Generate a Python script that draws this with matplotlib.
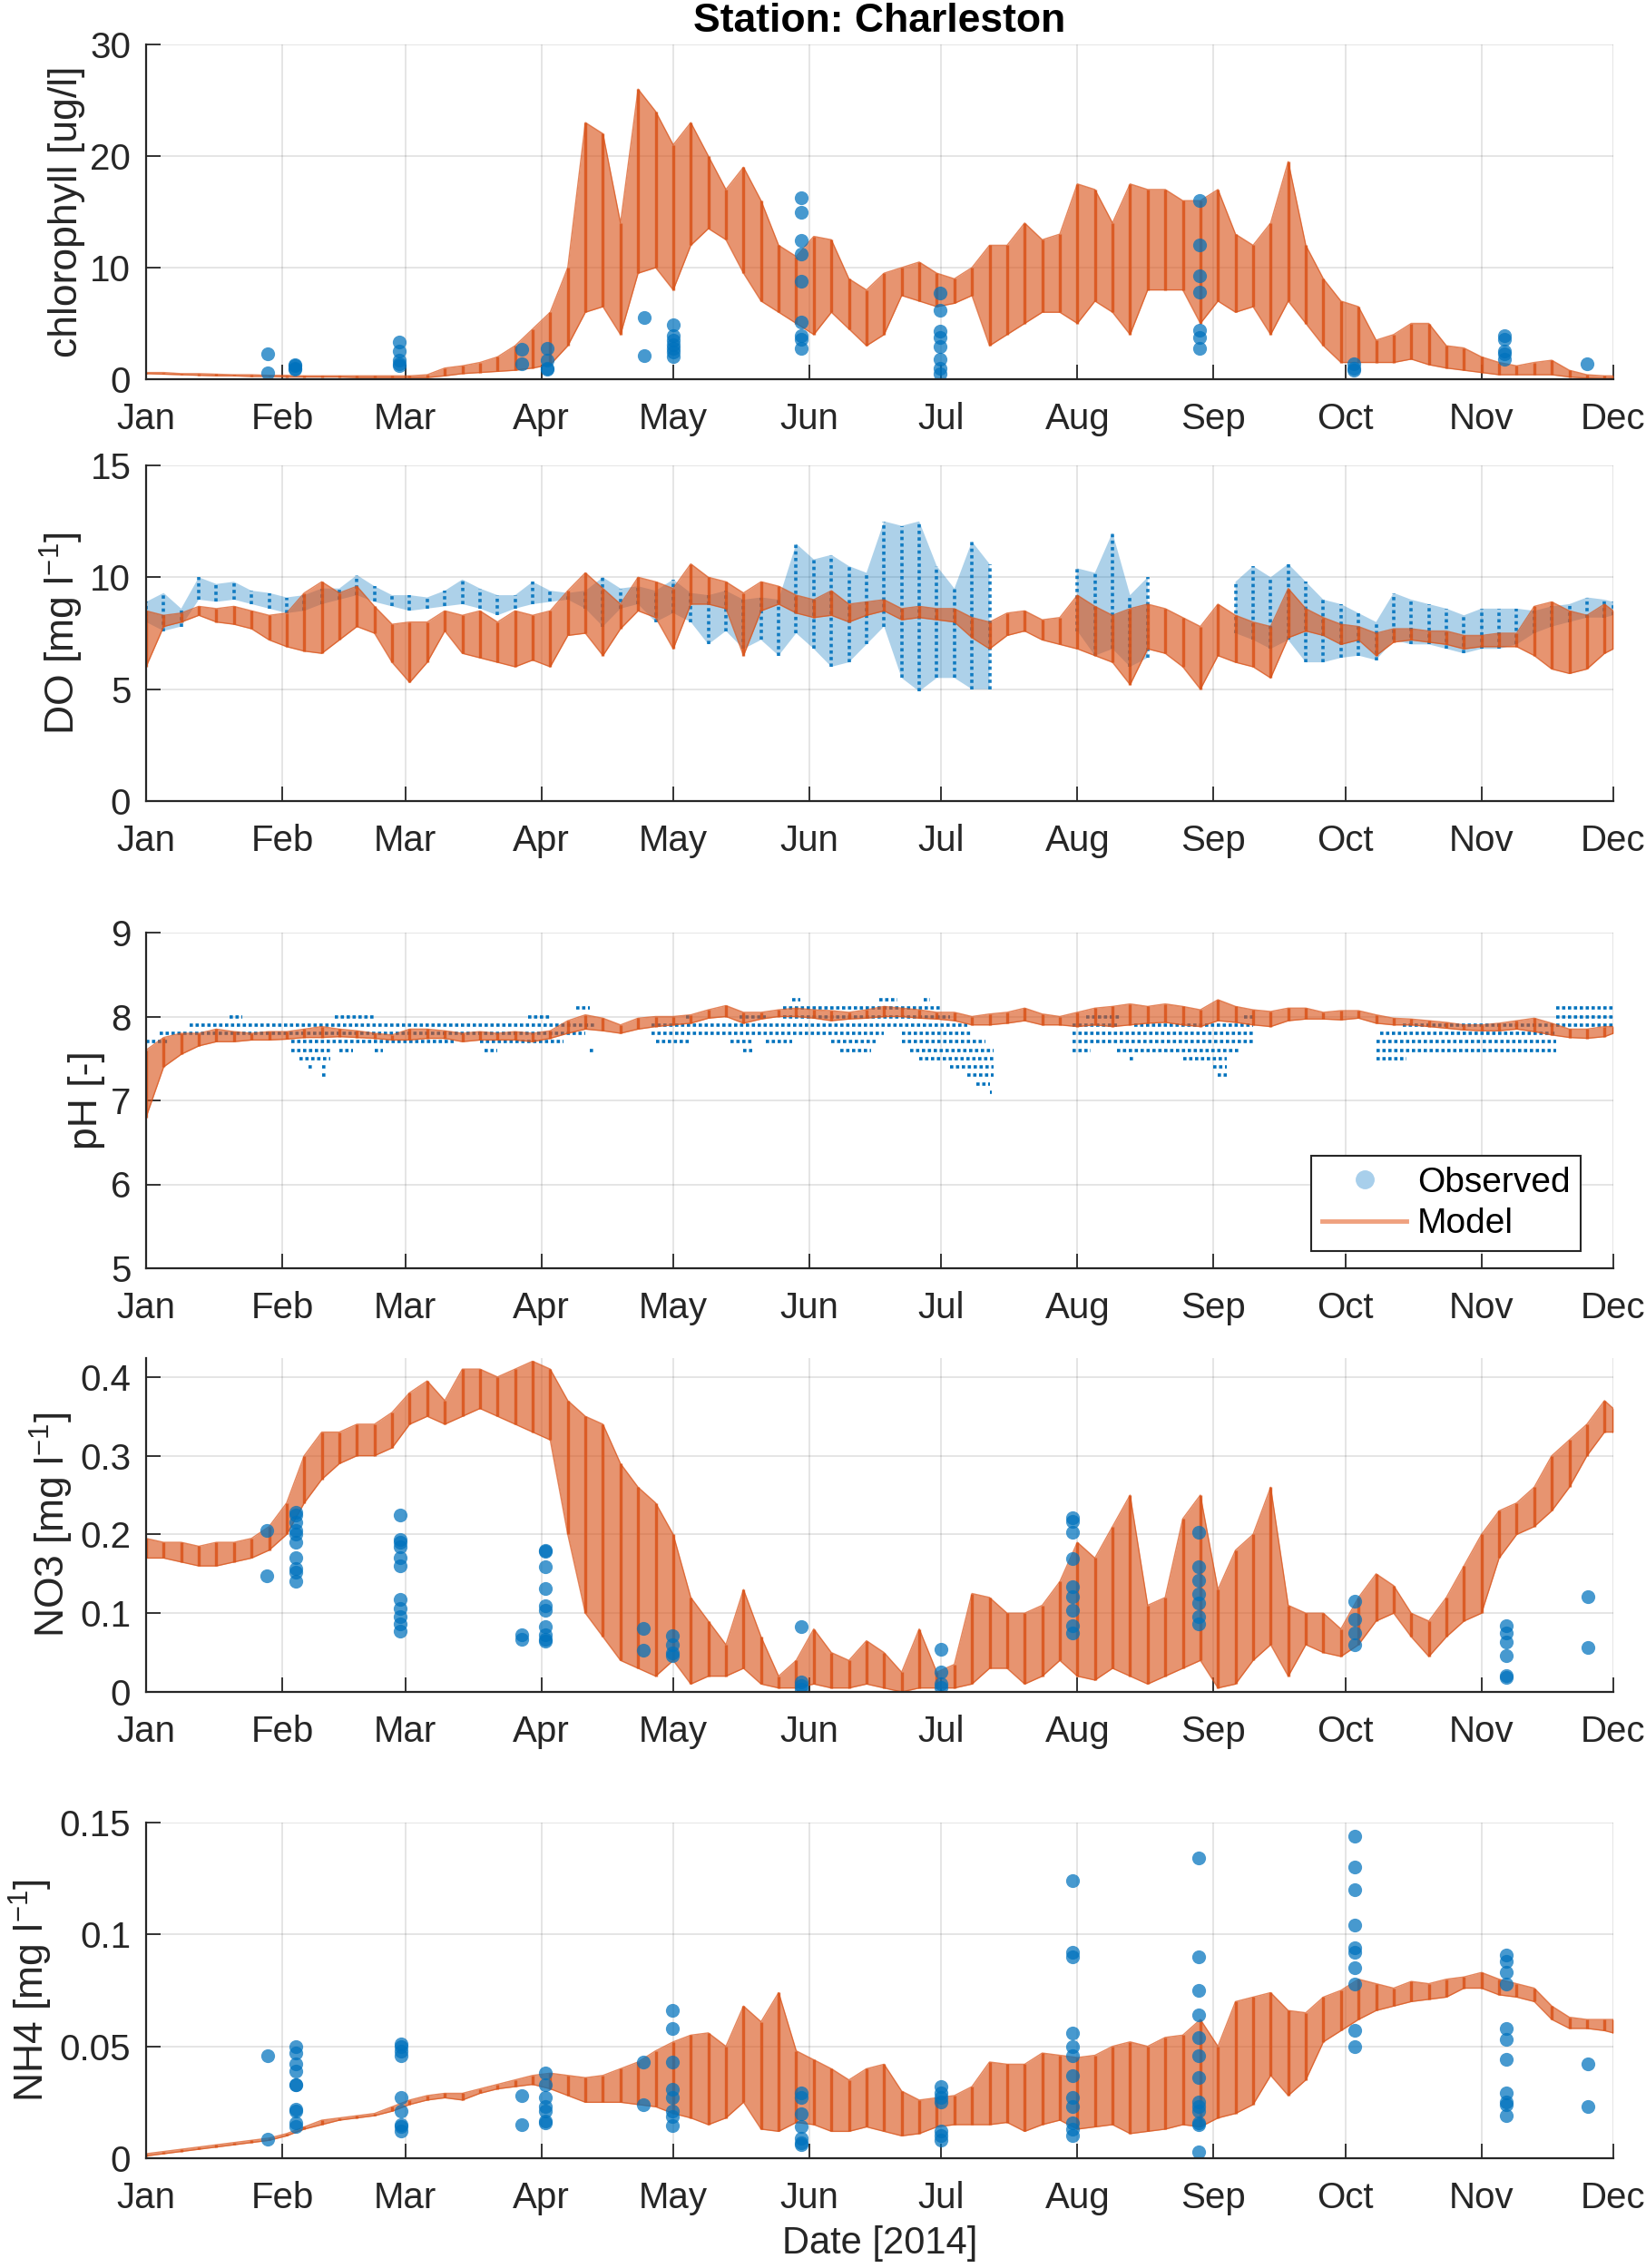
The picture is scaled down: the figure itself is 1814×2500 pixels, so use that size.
import numpy as np
import matplotlib
matplotlib.use('Agg')
import matplotlib.pyplot as plt
from matplotlib.lines import Line2D
from matplotlib.ticker import FuncFormatter

plt.rcParams['font.family'] = ['Liberation Sans', 'DejaVu Sans']
plt.rcParams['mathtext.default'] = 'regular'

month_names = ['Jan', 'Feb', 'Mar', 'Apr', 'May', 'Jun', 'Jul', 'Aug', 'Sep', 'Oct', 'Nov', 'Dec']
month_days = [0, 31, 59, 90, 120, 151, 181, 212, 243, 273, 304, 334]

# model envelope sampled every 4 days (day of year 2014, 0 = 1 Jan)
days = np.append(np.arange(0, 333, 4), 334)

chl_hi = [0.6, 0.6, 0.5, 0.5, 0.45, 0.4, 0.4, 0.35, 0.35, 0.3,
          0.3, 0.3, 0.3, 0.3, 0.3, 0.3, 0.4, 1.0, 1.2, 1.5,
          2.0, 3.0, 4.5, 6.0, 10, 23, 22, 14, 26, 24,
          21, 23, 20, 17, 19, 16, 12, 11, 12.8, 12.5,
          9, 8, 9.5, 10, 10.5, 9.5, 9, 10, 12, 12,
          14, 12.5, 13, 17.5, 17, 14, 17.5, 17, 17, 16,
          16, 17, 13, 12, 14, 19.5, 12, 9, 7, 6.5,
          3.5, 4, 5, 5, 3, 2.8, 2, 1.5, 1.2, 1.5,
          1.7, 0.8, 0.4, 0.3, 0.3]
chl_lo = [0.5, 0.45, 0.4, 0.35, 0.3, 0.3, 0.25, 0.25, 0.2, 0.2,
          0.2, 0.2, 0.15, 0.15, 0.15, 0.15, 0.15, 0.3, 0.5, 0.6,
          0.7, 0.8, 1.0, 1.3, 3, 6, 6.5, 4, 9.5, 10,
          8, 12, 13.5, 12.5, 9.5, 7, 6, 5, 4, 6,
          4.5, 3, 4, 7.5, 7, 6.5, 6.8, 7.5, 3, 4,
          5, 6, 6, 5, 7, 6, 4, 8, 8, 8,
          5, 7, 6, 6.5, 4, 7, 5, 3, 1.5, 1.5,
          1.5, 1.5, 1.8, 1.3, 1.0, 0.8, 0.6, 0.4, 0.4, 0.4,
          0.4, 0.2, 0.1, 0.05, 0.1]

do_hi = [8.5, 8.3, 8.4, 8.7, 8.6, 8.7, 8.5, 8.3, 8.4, 9.3,
         9.8, 9.3, 9.6, 8.7, 7.9, 8.0, 8.0, 8.5, 8.3, 8.5,
         8.0, 8.5, 8.3, 8.5, 9.4, 10.2, 9.5, 8.8, 10.0, 9.8,
         9.5, 10.6, 10.0, 9.8, 9.3, 9.8, 9.6, 9.2, 9.0, 9.4,
         8.8, 8.9, 9.0, 8.6, 8.7, 8.6, 8.6, 8.2, 8.0, 8.4,
         8.5, 8.1, 8.2, 9.2, 8.7, 8.3, 8.6, 8.8, 8.6, 8.2,
         7.8, 8.8, 8.3, 8.0, 7.8, 9.5, 8.6, 8.2, 7.9, 7.8,
         7.5, 7.7, 7.7, 7.6, 7.6, 7.4, 7.4, 7.5, 7.5, 8.7,
         8.9, 8.5, 8.3, 8.8, 8.5]
do_lo = [6.0, 7.8, 8.0, 8.3, 8.0, 7.9, 7.7, 7.2, 6.9, 6.7,
         6.6, 7.2, 7.8, 7.5, 6.2, 5.3, 6.2, 7.6, 6.6, 6.4,
         6.2, 6.0, 6.3, 6.0, 7.4, 7.5, 6.5, 7.7, 8.5, 8.2,
         6.8, 8.8, 8.8, 8.6, 6.5, 8.5, 8.8, 8.4, 8.2, 8.3,
         8.0, 8.3, 8.5, 8.1, 8.2, 8.1, 8.0, 7.3, 6.8, 7.4,
         7.6, 7.2, 7.0, 6.8, 6.5, 6.2, 5.2, 6.8, 6.6, 6.0,
         5.0, 6.5, 6.2, 6.0, 5.5, 7.3, 7.6, 7.4, 7.0, 7.2,
         6.5, 7.1, 7.2, 7.1, 7.0, 6.8, 6.9, 6.9, 6.9, 6.5,
         5.9, 5.7, 5.9, 6.6, 6.8]
nan = np.nan
do_obs_hi = [8.9, 9.3, 8.6, 10.0, 9.7, 9.8, 9.4, 9.3, 9.1, 9.2,
             9.5, 9.5, 10.1, 9.6, 9.2, 9.2, 9.1, 9.4, 9.9, 9.5,
             9.2, 9.2, 9.8, 9.4, 9.3, 9.4, 10.0, 9.5, 9.6, 9.4,
             9.9, 9.3, 9.2, 9.4, 9.0, 9.1, 9.0, 11.5, 10.8, 11.0,
             10.5, 10.2, 12.5, 12.3, 12.5, 10.5, 9.5, 11.6, 10.6, nan,
             nan, nan, nan, 10.4, 10.2, 12.0, 9.2, 10.0, nan, nan,
             nan, nan, 9.8, 10.5, 10.0, 10.6, 9.8, 9.0, 8.8, 8.4,
             8.0, 9.3, 9.0, 8.8, 8.6, 8.3, 8.6, 8.6, 8.6, 8.5,
             8.7, 8.8, 9.1, 9.0, 8.9]
do_obs_lo = [8.0, 7.6, 7.8, 9.0, 8.9, 9.0, 8.8, 8.6, 8.4, 8.5,
             8.8, 9.0, 9.2, 8.9, 8.7, 8.5, 8.6, 8.7, 8.8, 8.6,
             8.3, 8.6, 8.8, 8.9, 9.0, 8.6, 7.8, 8.6, 8.8, 8.0,
             8.4, 8.0, 7.0, 7.6, 6.8, 7.2, 6.5, 7.5, 6.8, 6.0,
             6.2, 7.0, 7.8, 5.5, 4.9, 5.5, 5.5, 5.0, 5.0, nan,
             nan, nan, nan, 7.6, 6.5, 6.8, 6.0, 6.4, nan, nan,
             nan, nan, 7.5, 7.2, 6.8, 7.2, 6.2, 6.2, 6.4, 6.5,
             6.3, 7.2, 7.0, 7.0, 6.8, 6.6, 6.8, 6.8, 7.0, 7.5,
             7.8, 8.0, 8.2, 8.2, 8.3]

ph_hi = [7.6, 7.75, 7.8, 7.8, 7.85, 7.82, 7.8, 7.82, 7.82, 7.85,
         7.88, 7.85, 7.83, 7.8, 7.78, 7.85, 7.85, 7.83, 7.8, 7.82,
         7.8, 7.82, 7.8, 7.83, 7.95, 8.02, 7.98, 7.9, 7.98, 8.0,
         8.0, 8.02, 8.08, 8.13, 8.05, 8.05, 8.08, 8.1, 8.08, 8.07,
         8.05, 8.08, 8.12, 8.1, 8.08, 8.05, 8.05, 8.0, 8.03, 8.05,
         8.1, 8.03, 8.0, 8.05, 8.1, 8.12, 8.15, 8.12, 8.15, 8.12,
         8.08, 8.2, 8.12, 8.08, 8.06, 8.1, 8.1, 8.05, 8.07, 8.07,
         8.02, 7.98, 7.97, 7.95, 7.93, 7.9, 7.9, 7.92, 7.95, 7.98,
         7.92, 7.85, 7.85, 7.88, 7.88]
ph_lo = [6.8, 7.4, 7.55, 7.65, 7.7, 7.7, 7.72, 7.72, 7.73, 7.75,
         7.75, 7.76, 7.75, 7.74, 7.72, 7.72, 7.74, 7.74, 7.7, 7.72,
         7.72, 7.72, 7.7, 7.74, 7.8, 7.85, 7.83, 7.8, 7.85, 7.88,
         7.9, 7.92, 7.98, 8.0, 7.92, 7.97, 8.0, 8.0, 7.98, 7.95,
         7.97, 7.98, 8.0, 8.0, 7.98, 7.97, 7.95, 7.9, 7.9, 7.92,
         7.95, 7.9, 7.9, 7.88, 7.9, 7.88, 7.9, 7.92, 7.93, 7.9,
         7.88, 7.95, 7.93, 7.9, 7.88, 7.95, 7.97, 7.97, 7.96, 7.98,
         7.92, 7.9, 7.9, 7.88, 7.86, 7.84, 7.83, 7.83, 7.85, 7.82,
         7.78, 7.75, 7.74, 7.76, 7.8]

# observed pH comes in 0.1 steps: level, first day, last day of each run
ph_obs_level = [7.9, 7.8, 7.7, 7.7, 7.7, 8.0, 8.0, 8.0, 8.1, 7.6, 7.6, 7.6, 7.6, 7.6, 7.5, 7.4, 7.4, 7.3,
                8.0, 8.0, 8.0, 7.9, 7.8, 7.8, 7.7, 7.7, 7.7, 7.7, 7.7, 7.6, 7.6, 7.6, 7.5, 7.4, 7.3, 7.2, 7.1,
                8.1, 8.2, 8.2, 8.2,
                8.0, 8.0, 7.9, 7.9, 7.8, 7.7, 7.6, 7.6, 7.5, 7.5, 7.4, 7.3,
                7.9, 7.8, 7.7, 7.6, 7.5,
                8.1, 8.0, 7.9]
ph_obs_start = [10, 3, 0, 33, 76, 19, 43, 87, 98, 33, 44, 52, 77, 101, 35, 37, 40, 40,
                123, 135, 145, 115, 115, 172, 116, 133, 141, 156, 172, 136, 158, 174, 176, 183, 187, 189, 192,
                145, 147, 167, 177,
                214, 250, 211, 225, 211, 211, 211, 221, 224, 236, 243, 244,
                286, 281, 280, 280, 280,
                321, 321, 321]
ph_obs_end = [102, 100, 5, 70, 95, 22, 52, 92, 101, 42, 47, 54, 80, 102, 42, 38, 41, 41,
              124, 141, 183, 187, 168, 188, 124, 138, 147, 166, 191, 138, 165, 193, 193, 193, 193, 192, 192.5,
              181, 149, 171, 178.5,
              222, 252, 221, 252, 252, 252, 215, 249, 225, 246, 246, 246,
              321, 321, 321, 321, 287,
              334, 334, 334]

no3_hi = [0.195, 0.19, 0.19, 0.185, 0.19, 0.19, 0.195, 0.21, 0.24, 0.30,
          0.33, 0.33, 0.34, 0.34, 0.355, 0.38, 0.395, 0.37, 0.41, 0.41,
          0.40, 0.41, 0.42, 0.41, 0.37, 0.35, 0.34, 0.29, 0.26, 0.24,
          0.20, 0.12, 0.09, 0.06, 0.13, 0.07, 0.02, 0.04, 0.08, 0.05,
          0.04, 0.065, 0.05, 0.025, 0.08, 0.025, 0.035, 0.125, 0.12, 0.10,
          0.10, 0.11, 0.14, 0.19, 0.17, 0.21, 0.25, 0.11, 0.12, 0.22,
          0.25, 0.13, 0.18, 0.20, 0.26, 0.11, 0.10, 0.10, 0.08, 0.12,
          0.15, 0.135, 0.10, 0.09, 0.12, 0.16, 0.20, 0.23, 0.24, 0.26,
          0.30, 0.32, 0.34, 0.37, 0.36]
no3_lo = [0.17, 0.17, 0.165, 0.16, 0.16, 0.165, 0.17, 0.18, 0.20, 0.24,
          0.27, 0.29, 0.30, 0.30, 0.31, 0.34, 0.35, 0.34, 0.35, 0.36,
          0.35, 0.34, 0.33, 0.32, 0.20, 0.10, 0.07, 0.04, 0.03, 0.02,
          0.04, 0.01, 0.02, 0.02, 0.03, 0.01, 0.005, 0.005, 0.01, 0.005,
          0.005, 0.01, 0.005, 0.0, 0.005, 0.005, 0.005, 0.01, 0.03, 0.03,
          0.01, 0.02, 0.04, 0.02, 0.015, 0.03, 0.02, 0.01, 0.02, 0.03,
          0.04, 0.005, 0.01, 0.04, 0.06, 0.02, 0.06, 0.05, 0.045, 0.06,
          0.09, 0.10, 0.07, 0.045, 0.07, 0.09, 0.10, 0.17, 0.20, 0.21,
          0.23, 0.26, 0.30, 0.33, 0.33]

nh4_hi = [0.002, 0.003, 0.004, 0.005, 0.006, 0.007, 0.008, 0.009, 0.011, 0.014,
          0.017, 0.018, 0.019, 0.020, 0.023, 0.026, 0.028, 0.029, 0.029, 0.031,
          0.033, 0.035, 0.037, 0.038, 0.037, 0.036, 0.037, 0.040, 0.043, 0.048,
          0.052, 0.055, 0.056, 0.050, 0.068, 0.061, 0.074, 0.048, 0.044, 0.040,
          0.035, 0.040, 0.042, 0.030, 0.026, 0.027, 0.028, 0.032, 0.043, 0.042,
          0.042, 0.047, 0.046, 0.045, 0.046, 0.050, 0.052, 0.050, 0.054, 0.055,
          0.062, 0.050, 0.070, 0.072, 0.074, 0.066, 0.065, 0.072, 0.075, 0.080,
          0.078, 0.076, 0.079, 0.078, 0.080, 0.081, 0.083, 0.080, 0.078, 0.076,
          0.068, 0.063, 0.062, 0.062, 0.062]
nh4_lo = [0.001, 0.002, 0.003, 0.004, 0.005, 0.006, 0.007, 0.008, 0.010, 0.013,
          0.015, 0.017, 0.018, 0.019, 0.021, 0.024, 0.026, 0.027, 0.026, 0.029,
          0.031, 0.032, 0.033, 0.031, 0.028, 0.025, 0.025, 0.025, 0.024, 0.023,
          0.020, 0.018, 0.015, 0.018, 0.025, 0.013, 0.012, 0.016, 0.015, 0.012,
          0.012, 0.014, 0.012, 0.010, 0.011, 0.014, 0.015, 0.015, 0.015, 0.016,
          0.012, 0.015, 0.017, 0.013, 0.014, 0.015, 0.011, 0.012, 0.013, 0.015,
          0.014, 0.018, 0.020, 0.024, 0.037, 0.028, 0.035, 0.052, 0.057, 0.062,
          0.066, 0.068, 0.070, 0.071, 0.072, 0.076, 0.076, 0.073, 0.072, 0.070,
          0.062, 0.058, 0.058, 0.057, 0.056]

# bottle samples: sampling day and the values measured that day
chl_obs_days = [27.6, 33.9, 57.7, 85.5, 91.2, 113.4, 120.1, 149.2, 180.8, 239.9, 275.0, 309.2, 328.0]
chl_obs_vals = [[2.3, 0.6], [1.3, 1.2, 1.0, 0.9], [3.3, 2.5, 1.7, 1.4, 1.2], [2.7, 1.4],
                [2.8, 1.7, 1.0, 0.9], [5.5, 2.1], [4.9, 3.9, 3.5, 3.1, 2.8, 2.4, 2.0],
                [16.3, 15.0, 12.4, 11.2, 8.8, 5.1, 3.9, 3.6, 2.8],
                [7.7, 6.2, 4.3, 3.7, 2.9, 1.8, 1.0, 0.5],
                [16.0, 12.0, 9.3, 7.8, 4.4, 3.7, 2.8], [1.4, 1.0, 0.8],
                [3.9, 3.6, 2.5, 2.3, 1.8], [1.4]]

no3_obs_days = [27.4, 34.0, 57.9, 85.5, 90.9, 113.2, 119.8, 149.1, 181.0, 211.0, 239.6, 275.2, 309.6, 328.3]
no3_obs_vals = [[0.205, 0.147],
                [0.228, 0.225, 0.215, 0.205, 0.200, 0.190, 0.171, 0.157, 0.152, 0.140],
                [0.225, 0.194, 0.190, 0.184, 0.171, 0.160, 0.117, 0.106, 0.096, 0.086, 0.077],
                [0.073, 0.067],
                [0.180, 0.179, 0.159, 0.131, 0.109, 0.104, 0.083, 0.073, 0.067, 0.065],
                [0.081, 0.053], [0.071, 0.060, 0.050, 0.046], [0.083, 0.013, 0.008, 0.004],
                [0.054, 0.025, 0.010, 0.006],
                [0.221, 0.217, 0.203, 0.169, 0.134, 0.121, 0.104, 0.084, 0.075],
                [0.203, 0.159, 0.142, 0.125, 0.113, 0.096, 0.086],
                [0.115, 0.092, 0.075, 0.060],
                [0.084, 0.075, 0.063, 0.046, 0.021, 0.019], [0.121, 0.056]]

nh4_obs_days = [27.6, 34.0, 58.0, 85.5, 90.9, 113.2, 119.8, 149.1, 181.0, 211.0, 239.7, 275.2, 309.6, 328.3]
nh4_obs_vals = [[0.046, 0.0087],
                [0.050, 0.047, 0.042, 0.039, 0.033, 0.033, 0.022, 0.021, 0.016, 0.014],
                [0.051, 0.050, 0.048, 0.046, 0.027, 0.021, 0.015, 0.014, 0.012],
                [0.028, 0.015],
                [0.038, 0.033, 0.027, 0.023, 0.021, 0.0165, 0.016],
                [0.043, 0.024],
                [0.066, 0.058, 0.043, 0.031, 0.027, 0.021, 0.0185, 0.0147],
                [0.029, 0.027, 0.020, 0.014, 0.009, 0.007, 0.006],
                [0.032, 0.029, 0.027, 0.025, 0.012, 0.010, 0.008],
                [0.124, 0.092, 0.090, 0.056, 0.050, 0.046, 0.037, 0.027, 0.023, 0.016, 0.013, 0.010],
                [0.134, 0.090, 0.075, 0.064, 0.054, 0.046, 0.036, 0.025, 0.023, 0.021, 0.016, 0.015, 0.003],
                [0.144, 0.130, 0.120, 0.104, 0.094, 0.092, 0.085, 0.078, 0.057, 0.050],
                [0.091, 0.088, 0.083, 0.078, 0.058, 0.053, 0.044, 0.029, 0.025, 0.024, 0.019],
                [0.042, 0.023]]

BLUE = '#0072BD'
ORANGE = '#D95319'
DARK = '#262626'


def style_axes(ax, ylim, yticks, ylabel):
    ax.set_xlim(0, 334)
    ax.set_ylim(*ylim)
    ax.set_xticks(month_days)
    ax.set_xticklabels(month_names)
    ax.set_yticks(yticks)
    ax.yaxis.set_major_formatter(FuncFormatter(lambda v, p: f'{v:g}'))
    ax.grid(True, color=DARK, alpha=0.13, lw=1.3)
    ax.set_axisbelow(True)
    ax.spines['top'].set_visible(False)
    ax.spines['right'].set_visible(False)
    for s in ['left', 'bottom']:
        ax.spines[s].set_color(DARK)
        ax.spines[s].set_linewidth(1.6)
        ax.spines[s].set_zorder(6)
    ax.tick_params(direction='in', length=11.5, width=1.3, color=DARK,
                   labelcolor=DARK, labelsize=29)
    ax.tick_params(axis='x', pad=18)
    ax.tick_params(axis='y', pad=12)
    ax.set_ylabel(ylabel, fontsize=32, color=DARK)


def draw_model(ax, lo, hi):
    ax.fill_between(days, lo, hi, color=ORANGE, alpha=0.62, lw=0, zorder=3)
    ax.vlines(days, lo, hi, color=ORANGE, lw=2.4, alpha=0.85, zorder=3)
    ax.plot(days, lo, color=ORANGE, lw=1.0, alpha=0.7, zorder=3)
    ax.plot(days, hi, color=ORANGE, lw=1.0, alpha=0.7, zorder=3)


def draw_samples(ax, sdays, svals):
    xs = [d for d, v in zip(sdays, svals) for _ in v]
    ys = [y for v in svals for y in v]
    ax.scatter(xs, ys, s=120, color=BLUE, alpha=0.72, lw=0, zorder=4)


fig = plt.figure(figsize=(18.15, 25), dpi=100)
boxes = [(0.8328, 0.1476), (0.6468, 0.148), (0.4408, 0.148), (0.254, 0.1472), (0.0484, 0.148)]
axes = [fig.add_axes([0.0887, b, 0.8909, h]) for b, h in boxes]

# chlorophyll
ax = axes[0]
draw_model(ax, chl_lo, chl_hi)
draw_samples(ax, chl_obs_days, chl_obs_vals)
style_axes(ax, (0, 30), [0, 10, 20, 30], 'chlorophyll [ug/l]')
ax.set_title('Station: Charleston', fontsize=32, fontweight='bold', pad=10)

# dissolved oxygen
ax = axes[1]
ok = ~np.isnan(np.array(do_obs_lo))
ax.fill_between(days, do_obs_lo, do_obs_hi, color=BLUE, alpha=0.32, lw=0, zorder=2)
ax.vlines(days[ok], np.array(do_obs_lo)[ok], np.array(do_obs_hi)[ok], color=BLUE,
          lw=2.6, linestyles=(0, (1, 1)), alpha=0.9, zorder=2)
draw_model(ax, do_lo, do_hi)
style_axes(ax, (0, 15), [0, 5, 10, 15], 'DO [mg l$^{-1}$]')

# pH
ax = axes[2]
ax.hlines(ph_obs_level, ph_obs_start, ph_obs_end, color=BLUE, lw=2.6,
          linestyles=(0, (1, 0.8)), zorder=2)
draw_model(ax, ph_lo, ph_hi)
style_axes(ax, (5, 9), [5, 6, 7, 8, 9], 'pH [-]')
handles = [Line2D([], [], marker='o', ls='none', color='#A8CFEB', markersize=14),
           Line2D([], [], color='#EFA17F', lw=3.5)]
leg = ax.legend(handles, ['Observed', 'Model'], loc='lower right', bbox_to_anchor=(0.978, 0.051),
                borderaxespad=0, fontsize=28, frameon=True, fancybox=False, framealpha=1,
                edgecolor=DARK, handlelength=2.4, handletextpad=0.3, labelspacing=0.25,
                borderpad=0.3)
leg.get_frame().set_linewidth(1.5)
leg.set_zorder(10)

# nitrate
ax = axes[3]
draw_model(ax, no3_lo, no3_hi)
draw_samples(ax, no3_obs_days, no3_obs_vals)
style_axes(ax, (0, 0.424), [0, 0.1, 0.2, 0.3, 0.4], 'NO3 [mg l$^{-1}$]')

# ammonium
ax = axes[4]
draw_model(ax, nh4_lo, nh4_hi)
draw_samples(ax, nh4_obs_days, nh4_obs_vals)
style_axes(ax, (0, 0.15), [0, 0.05, 0.1, 0.15], 'NH4 [mg l$^{-1}$]')
ax.set_xlabel('Date [2014]', fontsize=30, color=DARK, labelpad=8)

fig.savefig('out.png', dpi=100)
